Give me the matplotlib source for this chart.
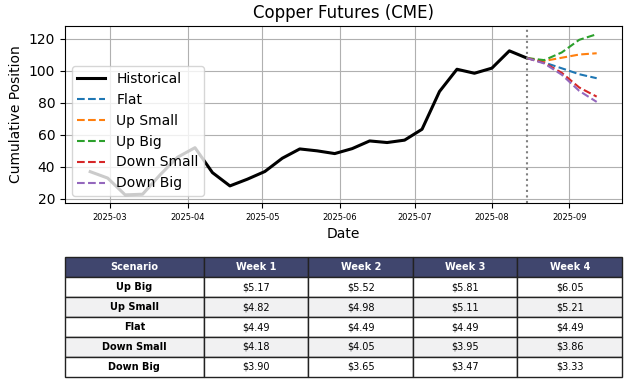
import matplotlib
matplotlib.use("Agg")
import matplotlib.pyplot as plt
import matplotlib.dates as mdates
import numpy as np
import pandas as pd

# --- historical weekly data ---
hist_dates = pd.date_range("2025-02-21", "2025-08-15", freq="7D")
hist_values = [37.0, 33.0, 22.5, 22.9, 35.0, 46.0, 52.0, 36.4, 28.1, 32.3,
               37.1, 45.4, 51.2, 50.0, 48.3, 51.4, 56.2, 55.2, 56.7, 63.5,
               87.1, 101.0, 98.5, 101.7, 112.5, 108.0]

# --- scenarios (start at last historical point) ---
fc_dates = pd.date_range("2025-08-15", "2025-09-12", freq="7D")
scenarios = ["Flat", "Up Small", "Up Big", "Down Small", "Down Big"]
scen_colors = ["tab:blue", "tab:orange", "tab:green", "tab:red", "tab:purple"]
flat = [108.0, 105.2, 101.6, 97.9, 95.4]
up_small = [108.0, 106.2, 108.2, 110.2, 111.0]
up_big = [108.0, 106.7, 111.5, 119.4, 122.9]
down_small = [108.0, 105.0, 98.8, 89.6, 83.9]
down_big = [108.0, 104.6, 97.6, 87.5, 80.6]
scen_values = [flat, up_small, up_big, down_small, down_big]

# --- table ---
col_labels = ["Scenario", "Week 1", "Week 2", "Week 3", "Week 4"]
row_names = ["Up Big", "Up Small", "Flat", "Down Small", "Down Big"]
prices = [
    [5.17, 5.52, 5.81, 6.05],
    [4.82, 4.98, 5.11, 5.21],
    [4.49, 4.49, 4.49, 4.49],
    [4.18, 4.05, 3.95, 3.86],
    [3.90, 3.65, 3.47, 3.33],
]

fig = plt.figure(figsize=(6.36, 3.85), dpi=100)
ax = fig.add_axes([0.102, 0.473, 0.876, 0.459])

ax.plot(hist_dates, hist_values, color="black", linewidth=2.2, label="Historical")
for name, vals, c in zip(scenarios, scen_values, scen_colors):
    ax.plot(fc_dates, vals, linestyle="--", color=c, linewidth=1.5, label=name)
ax.axvline(hist_dates[-1], color="grey", linestyle=":", linewidth=1.5)

ax.xaxis.set_major_locator(mdates.MonthLocator())
ax.xaxis.set_major_formatter(mdates.DateFormatter("%Y-%m"))
ax.tick_params(axis="x", labelsize=6)
ax.set_title("Copper Futures (CME)")
ax.set_xlabel("Date")
ax.set_ylabel("Cumulative Position")
ax.grid(True)
ax.legend(loc="lower left")

# --- table ---
tax = fig.add_axes([0.102, 0.021, 0.876, 0.311])
tax.axis("off")
cells = [[r] + [f"${p:.2f}" for p in row] for r, row in zip(row_names, prices)]
tbl = tax.table(cellText=cells, colLabels=col_labels, loc="center",
                cellLoc="center", bbox=[0, 0, 1, 1],
                colWidths=[139, 104.5, 104.5, 104.5, 104.5])
tbl.auto_set_font_size(False)
tbl.set_fontsize(7)
for (r, c), cell in tbl.get_celld().items():
    cell.set_edgecolor("#222222")
    if r == 0:
        cell.set_facecolor("#40466e")
        cell.get_text().set_color("white")
        cell.get_text().set_fontweight("bold")
    else:
        cell.set_facecolor("#f1f1f2" if r % 2 == 0 else "white")
        if c == 0:
            cell.get_text().set_fontweight("bold")

fig.savefig("out.png", dpi=100)
